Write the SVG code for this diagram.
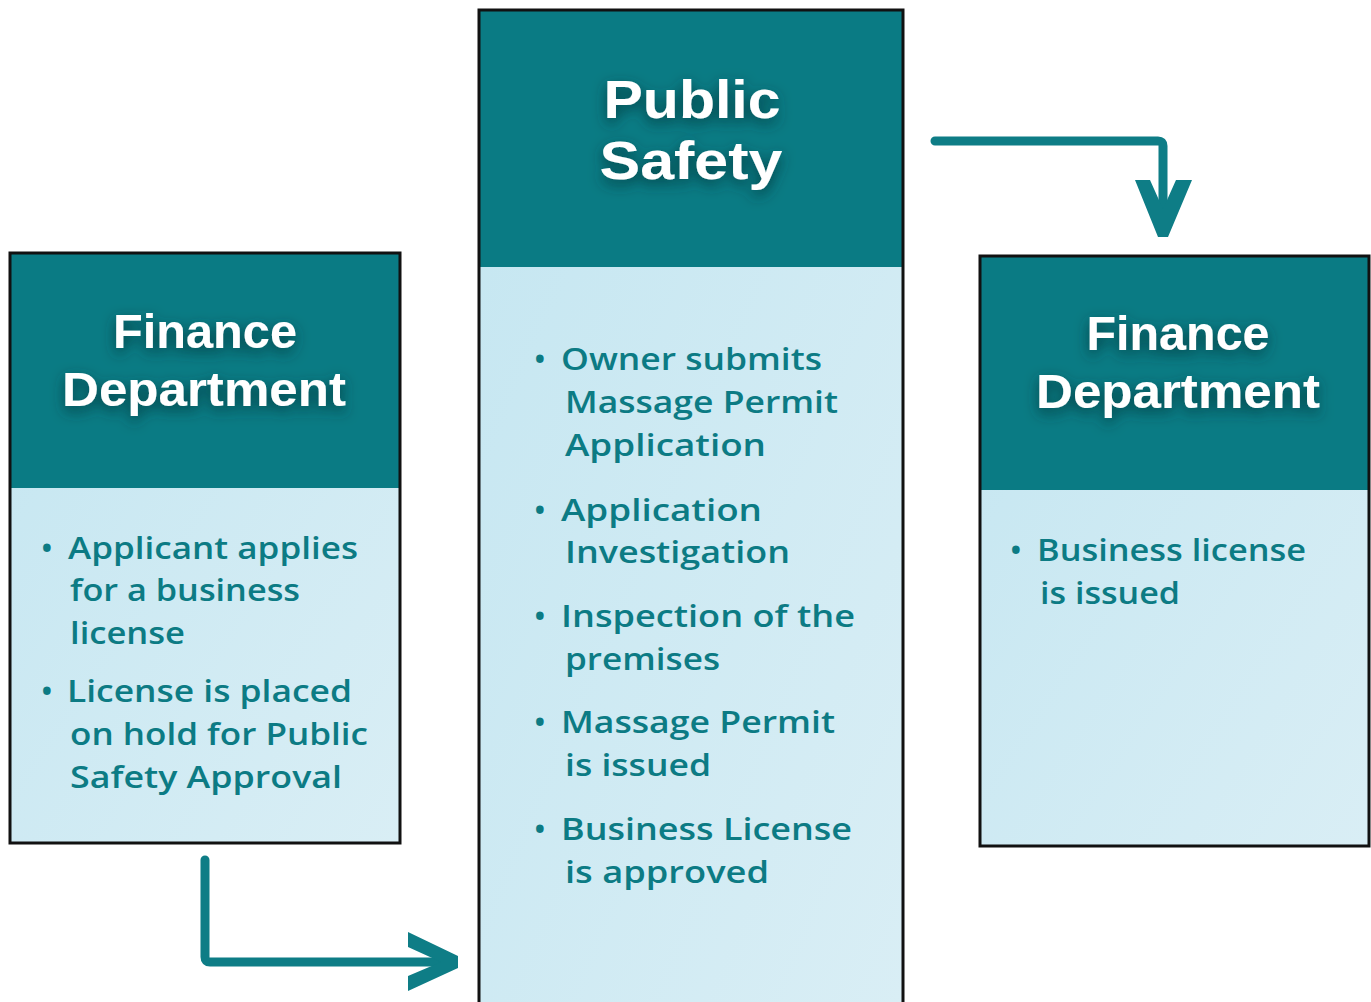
<svg xmlns="http://www.w3.org/2000/svg" width="1371" height="1002" viewBox="0 0 1371 1002">
<defs>
<linearGradient id="body" x1="0" y1="0" x2="1" y2="1">
<stop offset="0" stop-color="#c4e6f1"/>
<stop offset="1" stop-color="#d9eef5"/>
</linearGradient>
<filter id="sh" x="-30%" y="-50%" width="160%" height="200%">
<feDropShadow dx="0" dy="5" stdDeviation="7" flood-color="#05363a" flood-opacity="0.85"/>
</filter>
<style>
.hdr{fill:#0a7b84}
.bd{fill:url(#body)}
.frame{fill:none;stroke:#111;stroke-width:3}
.title{font-family:"Liberation Sans","Open Sans",sans-serif;font-weight:700;fill:#ffffff;text-anchor:middle}
.t1{font-size:49px}
.t2{font-size:54px}
.item{font-family:"Open Sans","Liberation Sans",sans-serif;font-weight:600;font-size:31px;fill:#0c7b84}
.conn{fill:none;stroke:#0e7d86;stroke-width:9;stroke-linecap:round;stroke-linejoin:round}
.head{fill:#0e7d86}
</style>
</defs>
<rect width="1371" height="1002" fill="#ffffff"/>

<g id="finance-left">
<rect class="bd" x="10" y="253" width="390" height="590"/>
<rect class="hdr" x="10" y="253" width="390" height="235"/>
<rect class="frame" x="10" y="253" width="390" height="590"/>
<g filter="url(#sh)">
<text class="title t1" x="205" y="348" textLength="184" lengthAdjust="spacingAndGlyphs">Finance</text>
<text class="title t1" x="204" y="406" textLength="284" lengthAdjust="spacingAndGlyphs">Department</text>
</g>
<text class="item" x="41" y="559">•</text>
<text class="item" x="68" y="559" textLength="290" lengthAdjust="spacingAndGlyphs">Applicant applies</text>
<text class="item" x="70" y="601" textLength="230" lengthAdjust="spacingAndGlyphs">for a business</text>
<text class="item" x="70" y="644" textLength="115" lengthAdjust="spacingAndGlyphs">license</text>
<text class="item" x="41" y="702">•</text>
<text class="item" x="67" y="702" textLength="285" lengthAdjust="spacingAndGlyphs">License is placed</text>
<text class="item" x="70" y="745" textLength="298" lengthAdjust="spacingAndGlyphs">on hold for Public</text>
<text class="item" x="70" y="788" textLength="272" lengthAdjust="spacingAndGlyphs">Safety Approval</text>
</g>

<g id="public-safety">
<rect class="bd" x="479" y="10" width="424" height="1000"/>
<rect class="hdr" x="479" y="10" width="424" height="257"/>
<rect class="frame" x="479" y="10" width="424" height="1000"/>
<g filter="url(#sh)">
<text class="title t2" x="692" y="118" textLength="177" lengthAdjust="spacingAndGlyphs">Public</text>
<text class="title t2" x="691" y="179" textLength="183" lengthAdjust="spacingAndGlyphs">Safety</text>
</g>
<text class="item" x="534" y="370">•</text>
<text class="item" x="561" y="370" textLength="261" lengthAdjust="spacingAndGlyphs">Owner submits</text>
<text class="item" x="565" y="413" textLength="273" lengthAdjust="spacingAndGlyphs">Massage Permit</text>
<text class="item" x="565" y="456" textLength="201" lengthAdjust="spacingAndGlyphs">Application</text>
<text class="item" x="534" y="521">•</text>
<text class="item" x="561" y="521" textLength="201" lengthAdjust="spacingAndGlyphs">Application</text>
<text class="item" x="565" y="563" textLength="225" lengthAdjust="spacingAndGlyphs">Investigation</text>
<text class="item" x="534" y="627">•</text>
<text class="item" x="561" y="627" textLength="294" lengthAdjust="spacingAndGlyphs">Inspection of the</text>
<text class="item" x="565" y="670" textLength="155" lengthAdjust="spacingAndGlyphs">premises</text>
<text class="item" x="534" y="733">•</text>
<text class="item" x="561" y="733" textLength="274" lengthAdjust="spacingAndGlyphs">Massage Permit</text>
<text class="item" x="565" y="776" textLength="146" lengthAdjust="spacingAndGlyphs">is issued</text>
<text class="item" x="534" y="840">•</text>
<text class="item" x="561" y="840" textLength="291" lengthAdjust="spacingAndGlyphs">Business License</text>
<text class="item" x="565" y="883" textLength="204" lengthAdjust="spacingAndGlyphs">is approved</text>
</g>

<g id="finance-right">
<rect class="bd" x="980" y="256" width="389" height="590"/>
<rect class="hdr" x="980" y="256" width="389" height="234"/>
<rect class="frame" x="980" y="256" width="389" height="590"/>
<g filter="url(#sh)">
<text class="title t1" x="1178" y="350" textLength="183" lengthAdjust="spacingAndGlyphs">Finance</text>
<text class="title t1" x="1178" y="408" textLength="284" lengthAdjust="spacingAndGlyphs">Department</text>
</g>
<text class="item" x="1010" y="561">•</text>
<text class="item" x="1037" y="561" textLength="269" lengthAdjust="spacingAndGlyphs">Business license</text>
<text class="item" x="1040" y="604" textLength="140" lengthAdjust="spacingAndGlyphs">is issued</text>
</g>

<g id="connectors">
<path class="conn" d="M935 141 H1158 Q1163 141 1163 146 V215"/>
<polygon class="head" points="1135,180 1150,180 1163,209 1176,180 1192,180 1168,237 1158,237"/>
<path class="conn" d="M205 860 V957 Q205 962 210 962 H440"/>
<polygon class="head" points="408,932 458,956 458,968 408,991 408,976 441,962 408,947"/>
</g>
</svg>
